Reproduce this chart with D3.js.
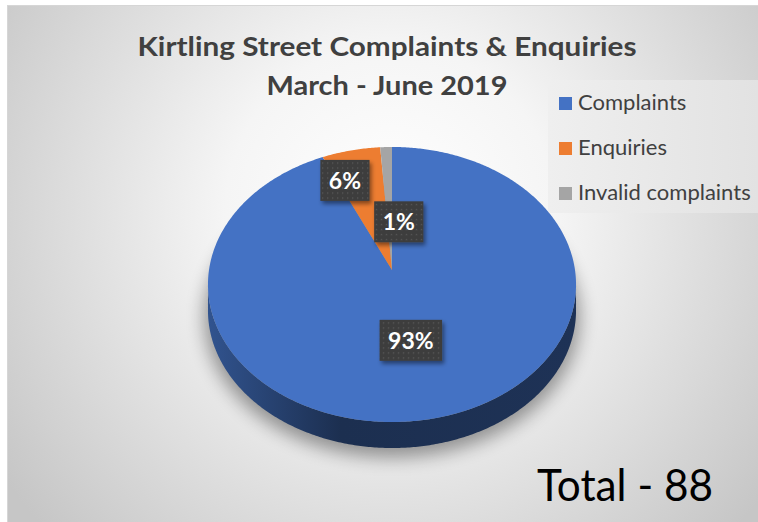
<!doctype html>
<html>
<head>
<script src="https://cdnjs.cloudflare.com/ajax/libs/d3/7.8.5/d3.min.js"></script>
<style>
  body { margin: 0; background: #fff; }
  text { font-family: Lato, "Open Sans", sans-serif; }
</style>
</head>
<body>
<svg width="758" height="522"></svg>
<script>
var categories = ["Complaints", "Enquiries", "Invalid complaints"];
var counts = [82, 5, 1];
var colors = ["#4472c4", "#ed7d31", "#a5a5a5"];
var titleLines = ["Kirtling Street Complaints & Enquiries", "March - June 2019"];

// where each data label sits: fraction of radius and a small turn (degrees) off the mid angle
var labelR = [0.50, 0.76, 0.37];
var labelTurn = [1, -7, 8];

var svg = d3.select("svg");
var defs = svg.append("defs");

// background
var bg = defs.append("radialGradient").attr("id", "bg")
  .attr("gradientUnits", "userSpaceOnUse")
  .attr("cx", 390).attr("cy", 210).attr("r", 470);
bg.append("stop").attr("offset", 0).attr("stop-color", "#ffffff");
bg.append("stop").attr("offset", 0.35).attr("stop-color", "#f5f5f5");
bg.append("stop").attr("offset", 1).attr("stop-color", "#c6c6c6");
svg.append("rect").attr("x", 7.5).attr("y", 5.5).attr("width", 760).attr("height", 530)
  .attr("fill", "url(#bg)").attr("stroke", "#d6d6d6");

// legend panel
var lg = defs.append("linearGradient").attr("id", "lgbg");
lg.append("stop").attr("offset", 0).attr("stop-color", "#efefef");
lg.append("stop").attr("offset", 1).attr("stop-color", "#e2e2e2");
svg.append("rect").attr("x", 548).attr("y", 80).attr("width", 210).attr("height", 133)
  .attr("fill", "url(#lgbg)");

// title
svg.selectAll("text.title").data(titleLines).enter().append("text")
  .attr("class", "title")
  .attr("x", 387).attr("y", (d, i) => 56 + i * 39)
  .attr("text-anchor", "middle")
  .attr("font-size", 26).attr("font-weight", "bold").attr("fill", "#404040")
  .attr("textLength", (d, i) => i ? 241 : 499)
  .attr("lengthAdjust", "spacingAndGlyphs")
  .text(d => d);

// 3d pie projection
var k = 0.1055, depth = 26;
var xs = d3.scaleLinear().domain([-1, 1]).range([209, 575]);
var ys = d3.scaleLinear().domain([0, 1]).range([270, 406]);
function proj(a, r) {
  var u = r * Math.sin(a), v = -r * Math.cos(a), w = 1 - k * v;
  return [xs(u / w), ys(v / w)];
}
function rim(a0, a1, r) {
  var n = Math.max(2, Math.ceil(Math.abs(a1 - a0) / 0.01));
  return d3.range(n + 1).map(i => proj(a0 + (a1 - a0) * i / n, r));
}
var line = d3.line();
var arcs = d3.pie().sort(null)(counts);

// find silhouette angles
var samp = d3.range(0, 2 * Math.PI, 0.002);
var aR = samp[d3.maxIndex(samp, a => proj(a, 1)[0])];
var aL = samp[d3.minIndex(samp, a => proj(a, 1)[0])];

// shadow
var sh = defs.append("filter").attr("id", "blur").attr("x", "-20%").attr("y", "-20%")
  .attr("width", "140%").attr("height", "140%");
sh.append("feGaussianBlur").attr("stdDeviation", 9);
svg.append("path")
  .attr("d", line(rim(0, 2 * Math.PI, 1.02).map(p => [p[0], p[1] + depth + 6])) + "Z")
  .attr("fill", "#000").attr("opacity", 0.38).attr("filter", "url(#blur)");

// side walls
arcs.forEach(function(a, i) {
  var s = Math.max(a.startAngle, aR), e = Math.min(a.endAngle, aL);
  if (s >= e) return;
  var g = defs.append("linearGradient").attr("id", "side" + i)
    .attr("gradientUnits", "userSpaceOnUse").attr("x1", 209).attr("x2", 575);
  var c = d3.color(colors[i]);
  g.append("stop").attr("offset", 0).attr("stop-color", c.darker(0.9));
  g.append("stop").attr("offset", 0.36).attr("stop-color", c.darker(2.5));
  g.append("stop").attr("offset", 1).attr("stop-color", c.darker(2.3));
  var top = rim(s, e, 1);
  var bot = top.map(p => [p[0], p[1] + depth]).reverse();
  svg.append("path").attr("d", line(top.concat(bot)) + "Z").attr("fill", "url(#side" + i + ")");
});

// top faces
svg.selectAll("path.slice").data(arcs).enter().append("path")
  .attr("class", "slice")
  .attr("d", a => line([proj(0, 0)].concat(rim(a.startAngle, a.endAngle, 1))) + "Z")
  .attr("fill", (a, i) => colors[i]);

// data labels
var pat = defs.append("pattern").attr("id", "dots").attr("patternUnits", "userSpaceOnUse")
  .attr("width", 5).attr("height", 5);
pat.append("rect").attr("width", 5).attr("height", 5).attr("fill", "#3d3d3d");
pat.append("rect").attr("x", 2).attr("y", 2).attr("width", 1.3).attr("height", 1.3).attr("fill", "#5a5a5a");
var ds = defs.append("filter").attr("id", "ds").attr("x", "-30%").attr("y", "-30%")
  .attr("width", "170%").attr("height", "170%");
ds.append("feDropShadow").attr("dx", 2).attr("dy", 3).attr("stdDeviation", 2)
  .attr("flood-color", "#000").attr("flood-opacity", 0.45);

var total = d3.sum(counts);
var pct = d3.format(".0%");
arcs.forEach(function(a, i) {
  var mid = (a.startAngle + a.endAngle) / 2 + labelTurn[i] * Math.PI / 180;
  var p = proj(mid, labelR[i]);
  var g = svg.append("g").attr("transform", "translate(" + p[0] + "," + p[1] + ")");
  var box = g.append("rect").attr("fill", "url(#dots)").attr("filter", "url(#ds)");
  var t = g.append("text").attr("text-anchor", "middle").attr("dy", "0.36em")
    .attr("font-size", 23).attr("font-weight", "bold").attr("fill", "#fff")
    .text(pct(a.data / total));
  var w = t.node().getComputedTextLength() + 17;
  box.attr("x", -w / 2).attr("y", -20.5).attr("width", w).attr("height", 41);
});

// legend
var leg = svg.selectAll("g.leg").data(categories).enter().append("g")
  .attr("class", "leg")
  .attr("transform", (d, i) => "translate(559," + (97 + i * 45) + ")");
leg.append("rect").attr("width", 13).attr("height", 13).attr("fill", (d, i) => colors[i]);
leg.append("text").attr("x", 19).attr("y", 13).attr("font-size", 22).attr("fill", "#404040")
  .text(d => d);

// total
svg.append("text").attr("x", 537).attr("y", 501)
  .attr("font-size", 45).attr("fill", "#000")
  .attr("textLength", 176).attr("lengthAdjust", "spacingAndGlyphs")
  .text("Total - " + total);
</script>
</body>
</html>
